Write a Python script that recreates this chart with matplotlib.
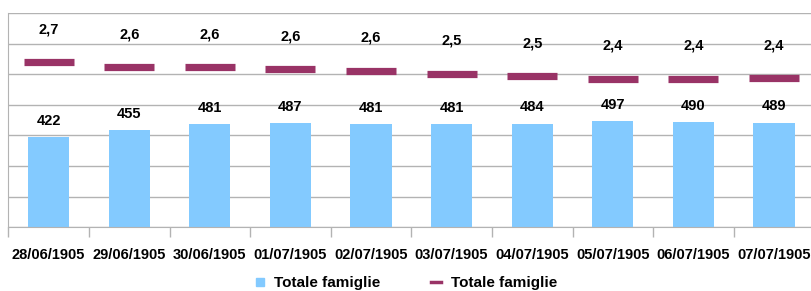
import numpy as np
import matplotlib.pyplot as plt
from matplotlib.lines import Line2D

plt.rcParams['font.family'] = ['Liberation Sans', 'DejaVu Sans']

dates = ['28/06/1905', '29/06/1905', '30/06/1905', '01/07/1905', '02/07/1905',
         '03/07/1905', '04/07/1905', '05/07/1905', '06/07/1905', '07/07/1905']
famiglie = [422, 455, 481, 487, 481, 481, 484, 497, 490, 489]
media = [2.70, 2.61, 2.61, 2.58, 2.56, 2.51, 2.47, 2.43, 2.43, 2.44]

bar_col = '#83caff'
dash_col = '#993366'
grid_col = '#b3b3b3'

fig = plt.figure(figsize=(8.11, 2.91), dpi=100)
W, H = 811, 291
left, right = 8.3 / W, 814.3 / W
bottom, top = 1 - 227.3 / H, 1 - 13 / H
ax = fig.add_axes([left, bottom, right - left, top - bottom])
ax2 = ax.twinx()

x = np.arange(len(dates))
ax.bar(x, famiglie, width=0.51, color=bar_col, zorder=2)
ax.set_xlim(-0.5, len(dates) - 0.5)
ax.set_ylim(0, 1000)
ax.set_yticks(np.linspace(0, 1000, 8))
ax.yaxis.grid(True, color=grid_col, linewidth=1, zorder=0)
ax.set_axisbelow(True)
ax.tick_params(axis='y', left=False, labelleft=False)

# category boundaries as major ticks, labels on minor ticks
ax.set_xticks(np.arange(-0.5, len(dates), 1.0))
ax.set_xticklabels([])
ax.tick_params(axis='x', which='major', length=7.5, color=grid_col, width=1)
ax.set_xticks(x, minor=True)
ax.set_xticklabels(dates, minor=True, fontsize=10.5, fontweight='bold')
ax.tick_params(axis='x', which='minor', length=0, pad=15)

for s in ['top', 'right']:
    ax.spines[s].set_visible(False)
for s in ['left', 'bottom']:
    ax.spines[s].set_color(grid_col)
for s in ax2.spines.values():
    s.set_visible(False)

for xi, v in zip(x, famiglie):
    ax.annotate(str(v), (xi, v), xytext=(0, 11.7), textcoords='offset points',
                ha='center', va='center', fontsize=10.5, fontweight='bold')

ax2.set_ylim(0, 3.5)
ax2.plot(x, media, linestyle='none', marker='_', markersize=36,
         markeredgewidth=5.2, color=dash_col, zorder=3)
ax2.tick_params(axis='y', right=False, labelright=False)
for xi, v in zip(x, media):
    ax2.annotate(f'{v:.1f}'.replace('.', ','), (xi, v), xytext=(0, 23.5),
                 textcoords='offset points', ha='center', va='center',
                 fontsize=10.5, fontweight='bold')

handles = [
    Line2D([], [], linestyle='none', marker='s', markersize=6,
           color=bar_col),
    Line2D([], [], color=dash_col, linewidth=2.5),
]
fig.legend(handles, ['Totale famiglie', 'Totale famiglie'], loc='center',
           bbox_to_anchor=(0.5, 1 - 283 / H), ncol=2, frameon=False,
           prop={'size': 11, 'weight': 'bold'}, handlelength=0.7,
           handletextpad=0.6, columnspacing=3.3)

fig.savefig('out.png', dpi=100)
